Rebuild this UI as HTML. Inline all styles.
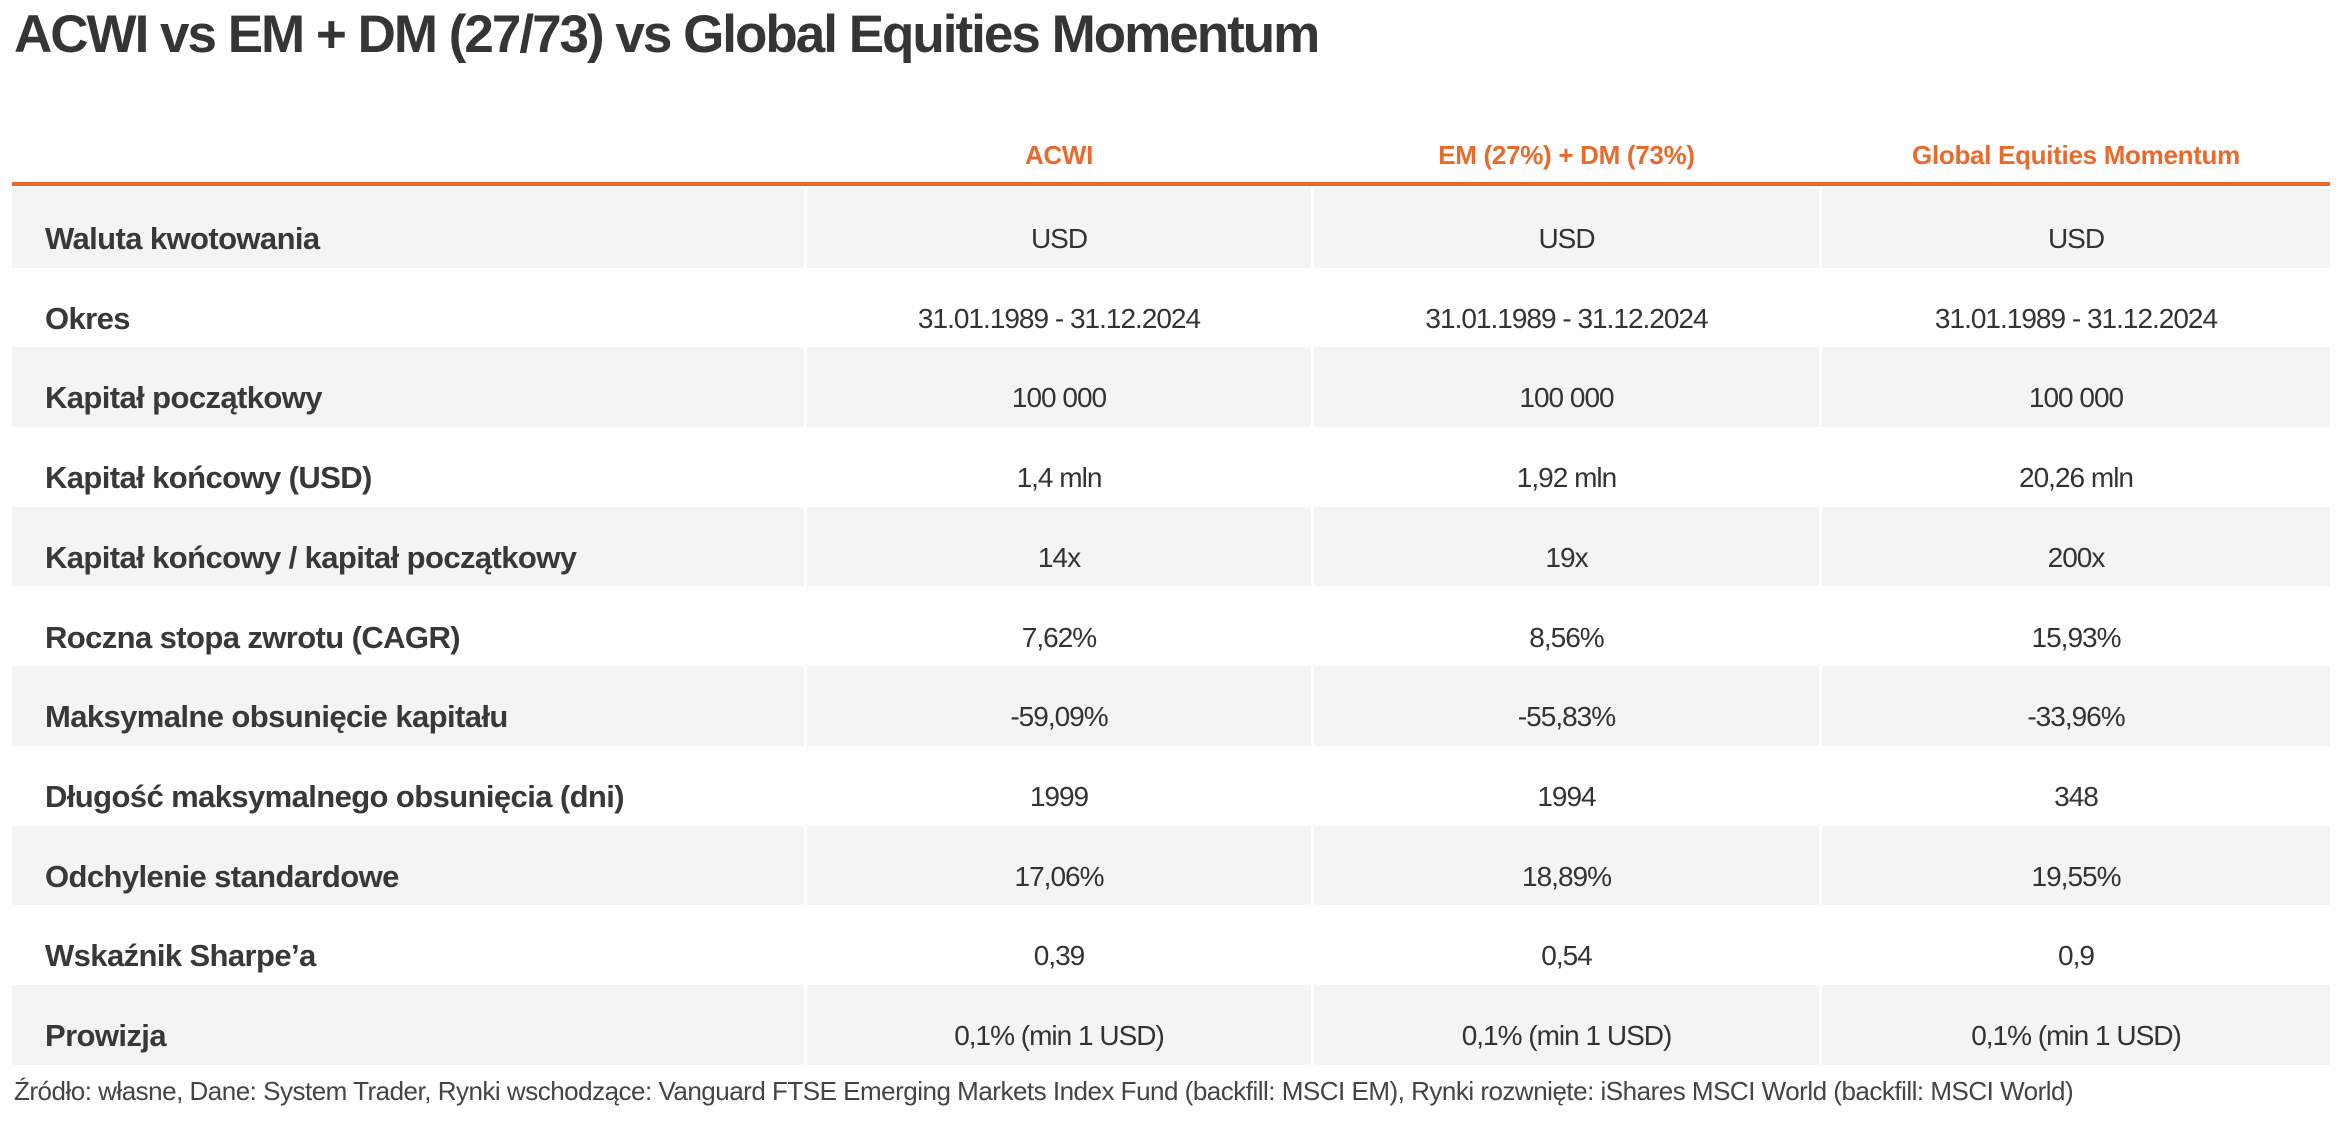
<!DOCTYPE html>
<html><head><meta charset="utf-8"><style>
body{margin:0;width:2344px;height:1122px;background:#fff;font-family:"Liberation Sans",sans-serif;color:#333;position:relative;overflow:hidden}
.title{position:absolute;left:14px;top:4px;font-size:53px;font-weight:bold;letter-spacing:-2px;color:#353535}
.hdr{position:absolute;top:140px;font-size:26px;font-weight:bold;color:#ea6a2c;text-align:center;letter-spacing:-0.3px}
.line{position:absolute;left:12px;top:182px;width:2318px;height:4px;background:#ea6a2c}
.row{position:absolute;left:12px;width:2318px;height:79.7px}
.c{position:absolute;top:0;height:100%;box-sizing:border-box;padding-top:35px;font-size:28px;letter-spacing:-1px}
.g .c{background:#f3f4f4}
.l{left:0;width:792px;padding-left:33px;font-weight:bold;color:#383838;font-size:31px;letter-spacing:-0.6px;padding-top:33px}
.v1{left:795px;width:504px;text-align:center}
.v2{left:1302px;width:505px;text-align:center}
.v3{left:1810px;width:508px;text-align:center}
.foot{position:absolute;left:14px;top:1076px;font-size:26px;letter-spacing:-0.5px;color:#444}
</style></head><body>
<div class="title">ACWI vs EM + DM (27/73) vs Global Equities Momentum</div>
<div class="hdr" style="left:807px;width:504px">ACWI</div>
<div class="hdr" style="left:1314px;width:505px">EM (27%) + DM (73%)</div>
<div class="hdr" style="left:1822px;width:508px">Global Equities Momentum</div>
<div class="line"></div>
<div class="row g" style="top:188px"><div class="c l">Waluta kwotowania</div><div class="c v1">USD</div><div class="c v2">USD</div><div class="c v3">USD</div></div>
<div class="row" style="top:267.7px"><div class="c l">Okres</div><div class="c v1">31.01.1989 - 31.12.2024</div><div class="c v2">31.01.1989 - 31.12.2024</div><div class="c v3">31.01.1989 - 31.12.2024</div></div>
<div class="row g" style="top:347.4px"><div class="c l">Kapitał początkowy</div><div class="c v1">100 000</div><div class="c v2">100 000</div><div class="c v3">100 000</div></div>
<div class="row" style="top:427.1px"><div class="c l">Kapitał końcowy (USD)</div><div class="c v1">1,4 mln</div><div class="c v2">1,92 mln</div><div class="c v3">20,26 mln</div></div>
<div class="row g" style="top:506.8px"><div class="c l">Kapitał końcowy / kapitał początkowy</div><div class="c v1">14x</div><div class="c v2">19x</div><div class="c v3">200x</div></div>
<div class="row" style="top:586.5px"><div class="c l">Roczna stopa zwrotu (CAGR)</div><div class="c v1">7,62%</div><div class="c v2">8,56%</div><div class="c v3">15,93%</div></div>
<div class="row g" style="top:666.2px"><div class="c l">Maksymalne obsunięcie kapitału</div><div class="c v1">-59,09%</div><div class="c v2">-55,83%</div><div class="c v3">-33,96%</div></div>
<div class="row" style="top:745.9px"><div class="c l">Długość maksymalnego obsunięcia (dni)</div><div class="c v1">1999</div><div class="c v2">1994</div><div class="c v3">348</div></div>
<div class="row g" style="top:825.6px"><div class="c l">Odchylenie standardowe</div><div class="c v1">17,06%</div><div class="c v2">18,89%</div><div class="c v3">19,55%</div></div>
<div class="row" style="top:905.3px"><div class="c l">Wskaźnik Sharpe’a</div><div class="c v1">0,39</div><div class="c v2">0,54</div><div class="c v3">0,9</div></div>
<div class="row g" style="top:985px"><div class="c l">Prowizja</div><div class="c v1">0,1% (min 1 USD)</div><div class="c v2">0,1% (min 1 USD)</div><div class="c v3">0,1% (min 1 USD)</div></div>
<div class="foot">Źródło: własne, Dane: System Trader, Rynki wschodzące: Vanguard FTSE Emerging Markets Index Fund (backfill: MSCI EM), Rynki rozwnięte: iShares MSCI World (backfill: MSCI World)</div>
</body></html>
